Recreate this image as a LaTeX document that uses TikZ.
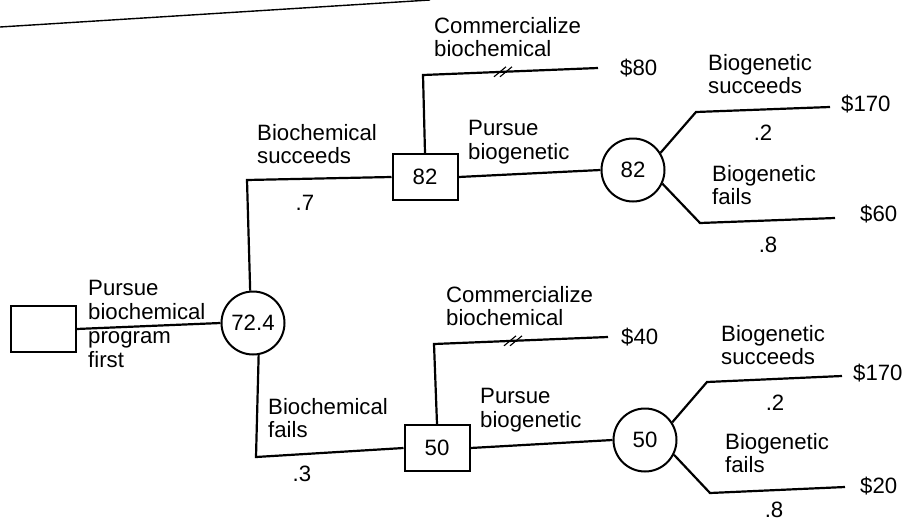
\documentclass[tikz,border=0pt]{standalone}
\usepackage{fontspec}
\setmainfont{Liberation Sans}
\usetikzlibrary{calc}
\begin{document}
\begin{tikzpicture}[x=1pt,y=-1pt,
  every node/.style={font=\fontsize{22.2}{23.8}\selectfont},
  lbl/.style={anchor=west,align=left,inner sep=0pt},
  num/.style={inner sep=0pt},
  dbox/.style={draw,line width=2pt,minimum width=65pt,minimum height=46pt,inner sep=0pt,fill=white},
  cnode/.style={draw,circle,line width=2pt,minimum size=63pt,inner sep=0pt,fill=white},
  br/.style={line width=2.2pt},
  cut/.style={line width=1.1pt}]
\useasboundingbox (0,0) rectangle (910,522);
% scan rule at top
\draw[line width=1.4pt] (0,27) -- (430,0);
% nodes
\node[dbox] (D0) at (43,329) {};
\node[cnode] (C0) at (253,323) {72.4};
\node[dbox] (B1) at (425,177) {82};
\node[dbox] (B2) at (437,448) {50};
\node[cnode] (C1) at (633,170) {82};
\node[cnode] (C2) at (645,440) {50};
% corner and end points
\coordinate (u0) at (247,180);
\coordinate (d0) at (256,457);
\coordinate (k1) at (423,75);  \coordinate (e80) at (598,68);
\coordinate (k2) at (434,344); \coordinate (e40) at (608,337);
\coordinate (a1) at (696,112); \coordinate (t1) at (830,107);
\coordinate (b1) at (700,223); \coordinate (t2) at (835,218);
\coordinate (a2) at (707,382); \coordinate (t3) at (842,376);
\coordinate (b2) at (710,493); \coordinate (t4) at (845,487);
% connectors
\draw[br] (D0.east) -- (C0.west);
\draw[br] (C0.95) -- (u0) -- (B1.west);
\draw[br] (C0.-80) -- (d0) -- (B2.west);
\draw[br] (B1.north) -- (k1) -- (e80);
\draw[br] (B2.north) -- (k2) -- (e40);
\draw[br] (B1.east) -- (C1.west);
\draw[br] (B2.east) -- (C2.west);
\draw[br] (C1.32) -- (a1) -- (t1);
\draw[br] (C1.-25) -- (b1) -- (t2);
\draw[br] (C2.33) -- (a2) -- (t3);
\draw[br] (C2.-27) -- (b2) -- (t4);
% pruning marks
\coordinate (s1) at ($(k1)!0.457!(e80)$);
\coordinate (s2) at ($(k2)!0.454!(e40)$);
\draw[cut] ($(s1)+(-9,5)$) -- ($(s1)+(3,-5)$);
\draw[cut] ($(s1)+(-3,5)$) -- ($(s1)+(9,-5)$);
\draw[cut] ($(s2)+(-9,5)$) -- ($(s2)+(3,-5)$);
\draw[cut] ($(s2)+(-3,5)$) -- ($(s2)+(9,-5)$);
% labels
\node[lbl] (l0) at (88,324) {Pursue\\biochemical\\program\\first};
\node[lbl] (l1) at (257,144) {Biochemical\\succeeds};
\node[num] (p1) at (305,203) {.7};
\node[lbl] (l2) at (268,418) {Biochemical\\fails};
\node[num] (p2) at (302,474) {.3};
\node[lbl] (l3) at (434,37) {Commercialize\\biochemical};
\node[lbl] (v80) at (620,68) {\$80};
\node[lbl] (l4) at (468,142) {Pursue\\biogenetic};
\node[lbl] (l5) at (708,74) {Biogenetic\\succeeds};
\node[lbl] (v170a) at (841,104) {\$170};
\node[num] (p3) at (763,133) {.2};
\node[lbl] (l6) at (712,185) {Biogenetic\\fails};
\node[lbl] (v60) at (860,214) {\$60};
\node[num] (p4) at (768,245) {.8};
\node[lbl] (l7) at (446,306) {Commercialize\\biochemical};
\node[lbl] (v40) at (621,337) {\$40};
\node[lbl] (l8) at (480,410) {Pursue\\biogenetic};
\node[lbl] (l9) at (721,345) {Biogenetic\\succeeds};
\node[lbl] (v170b) at (853,373) {\$170};
\node[num] (p5) at (775,403) {.2};
\node[lbl] (l10) at (725,453) {Biogenetic\\fails};
\node[lbl] (v20) at (860,486) {\$20};
\node[num] (p6) at (774,510) {.8};
\end{tikzpicture}
\end{document}
